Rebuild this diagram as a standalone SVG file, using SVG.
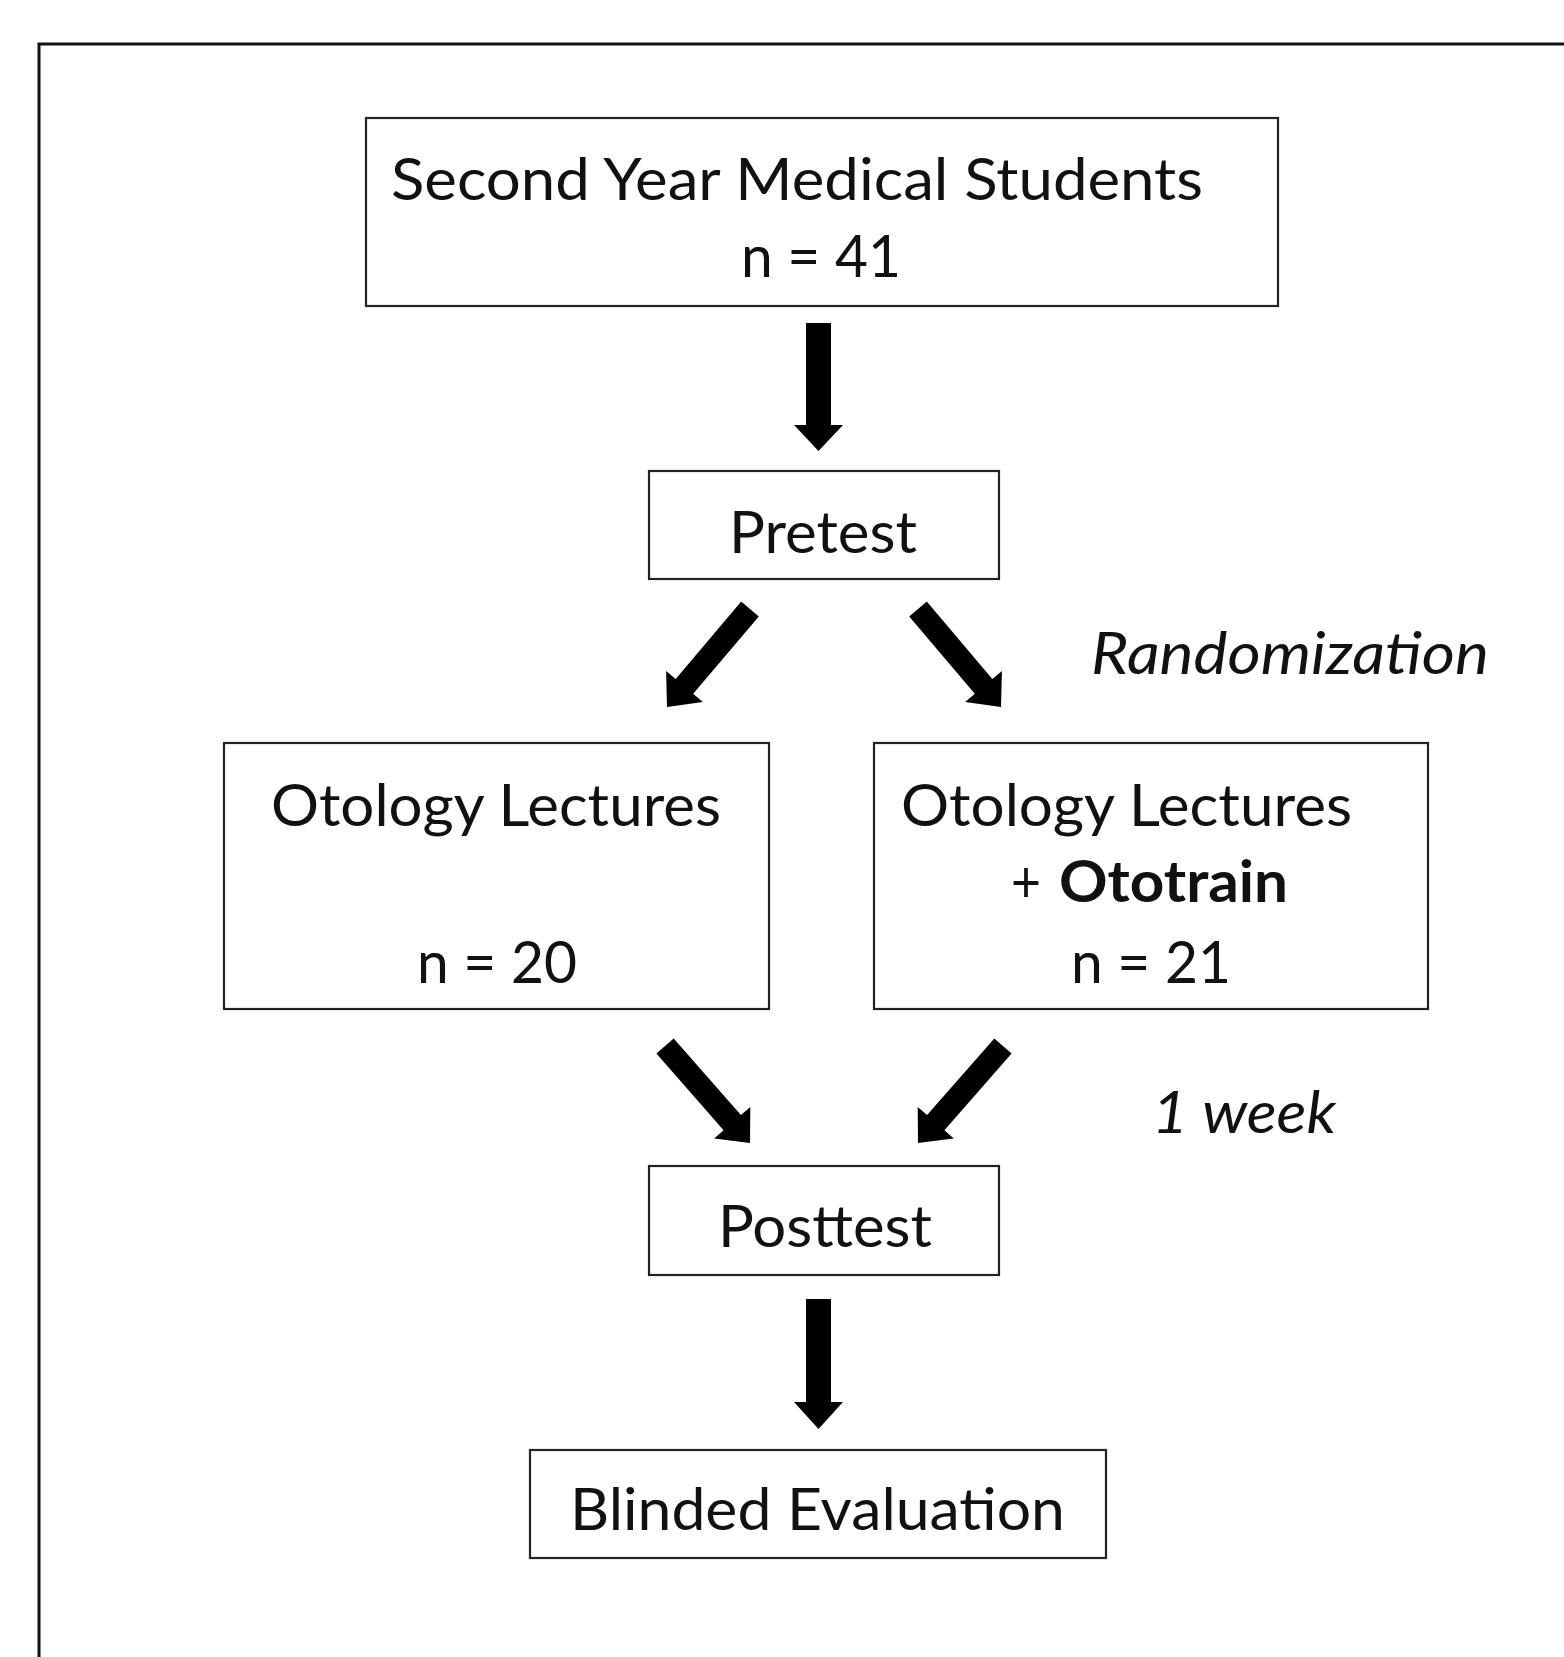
<svg xmlns="http://www.w3.org/2000/svg" width="1564" height="1657" viewBox="0 0 1564 1657">
<style>
.bg{fill:#ffffff}
.frame{fill:none;stroke:#111;stroke-width:3}
.box{fill:#ffffff;stroke:#222;stroke-width:2.2}
.t{font-family:Lato,"Open Sans","Liberation Sans",sans-serif;font-size:58px;fill:#111}
.it{font-style:italic}
.b{font-weight:bold}
.arrow{fill:#000;stroke:none}
</style>
<rect class="bg" x="0" y="0" width="1564" height="1657"/>
<path class="frame" d="M39 1660 V44 H1570"/>

<g id="connectors">
  <polygon class="arrow" points="806,323 831,323 831,425 843,425 818.5,451 794,425 806,425"/>
  <polygon class="arrow" points="741.2,601.6 675.7,679 666.1,670.9 667,707 702.8,701.9 693.2,693.8 758.8,616.4"/>
  <polygon class="arrow" points="926.8,601.6 992.3,679 1001.9,670.9 1001,707 965.2,701.9 974.8,693.8 909.2,616.4"/>
  <polygon class="arrow" points="656.4,1053.6 723.6,1130.3 714.2,1138.5 750,1143 750.3,1106.9 740.9,1115.1 673.7,1038.4"/>
  <polygon class="arrow" points="1011.6,1053.6 944.4,1130.3 953.8,1138.5 918,1143 917.7,1106.9 927.1,1115.1 994.3,1038.4"/>
  <polygon class="arrow" points="806,1299 831,1299 831,1402 843,1402 818.5,1429 794,1402 806,1402"/>
</g>

<g id="label-randomization">
  <text class="t it" x="1091" y="674" textLength="398" lengthAdjust="spacingAndGlyphs">Randomization</text>
</g>
<g id="label-week">
  <text class="t it" x="1152" y="1133" textLength="184" lengthAdjust="spacingAndGlyphs">1 week</text>
</g>

<g id="node-students">
  <rect class="box" x="366" y="118" width="912" height="188"/>
  <text class="t" x="391" y="200" textLength="812" lengthAdjust="spacingAndGlyphs">Second Year Medical Students</text>
  <text class="t" x="741" y="277" textLength="160" lengthAdjust="spacingAndGlyphs">n = 41</text>
</g>

<g id="node-pretest">
  <rect class="box" x="649" y="471" width="350" height="108"/>
  <text class="t" x="729" y="553" textLength="188" lengthAdjust="spacingAndGlyphs">Pretest</text>
</g>

<g id="node-lectures">
  <rect class="box" x="224" y="743" width="545" height="266"/>
  <text class="t" x="271" y="826" textLength="450" lengthAdjust="spacingAndGlyphs">Otology Lectures</text>
  <text class="t" x="417" y="983" textLength="160" lengthAdjust="spacingAndGlyphs">n = 20</text>
</g>

<g id="node-lectures-ototrain">
  <rect class="box" x="874" y="743" width="554" height="266"/>
  <text class="t" x="901" y="826" textLength="451" lengthAdjust="spacingAndGlyphs">Otology Lectures</text>
  <text class="t" y="902"><tspan x="1011" textLength="30" lengthAdjust="spacingAndGlyphs">+</tspan><tspan class="b" x="1059" textLength="229" lengthAdjust="spacingAndGlyphs">Ototrain</tspan></text>
  <text class="t" x="1071" y="983" textLength="160" lengthAdjust="spacingAndGlyphs">n = 21</text>
</g>

<g id="node-posttest">
  <rect class="box" x="649" y="1166" width="350" height="109"/>
  <text class="t" x="718" y="1247" textLength="214" lengthAdjust="spacingAndGlyphs">Posttest</text>
</g>

<g id="node-blinded">
  <rect class="box" x="530" y="1450" width="576" height="108"/>
  <text class="t" x="570" y="1530" textLength="495" lengthAdjust="spacingAndGlyphs">Blinded Evaluation</text>
</g>
</svg>
